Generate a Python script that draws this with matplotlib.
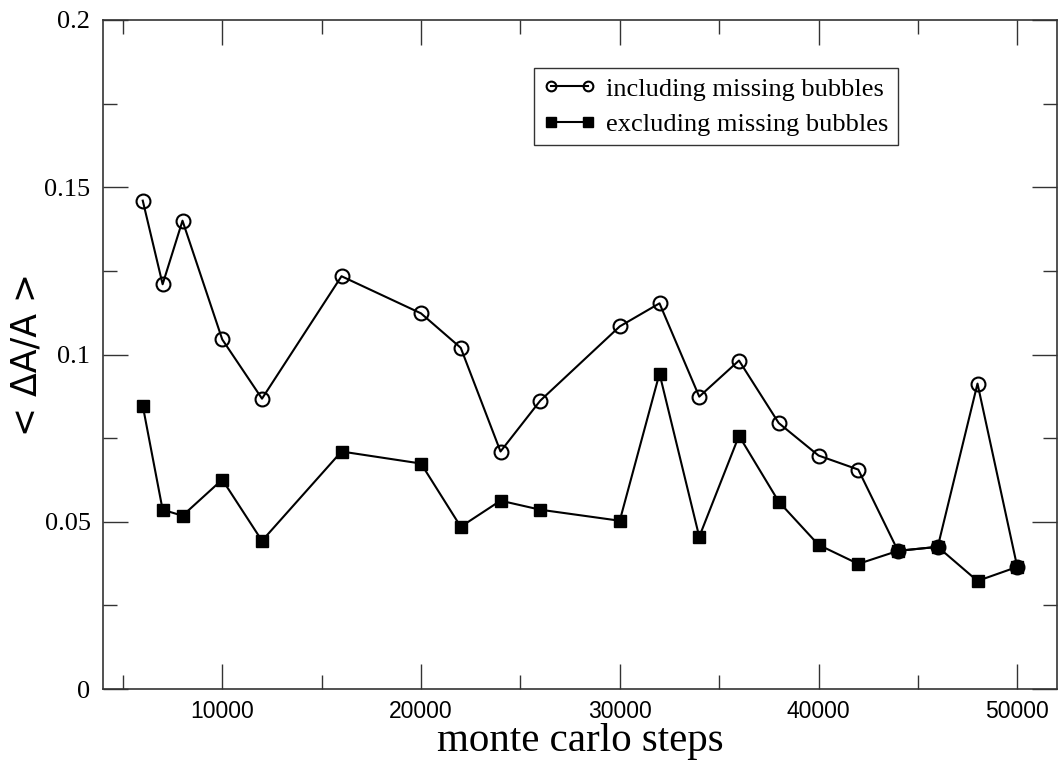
import matplotlib
matplotlib.use('Agg')
import matplotlib.pyplot as plt
from matplotlib.ticker import MultipleLocator

# monte carlo steps
steps = [6000, 7000, 8000, 10000, 12000, 16000, 20000, 22000, 24000, 26000,
         30000, 32000, 34000, 36000, 38000, 40000, 42000, 44000, 46000, 48000, 50000]

including = [0.146, 0.121, 0.140, 0.1045, 0.0868, 0.1234, 0.1123, 0.102, 0.071, 0.0862,
             0.1084, 0.1153, 0.0874, 0.0982, 0.0795, 0.0698, 0.0656, 0.0413, 0.0425, 0.0913, 0.0365]

excluding = [0.0847, 0.0536, 0.0518, 0.0626, 0.0443, 0.071, 0.0674, 0.0485, 0.0563, 0.0536,
             0.0503, 0.0943, 0.0455, 0.0757, 0.056, 0.0431, 0.0374, 0.0413, 0.0425, 0.0323, 0.0365]

plt.rcParams['font.family'] = 'Liberation Serif'

fig = plt.figure(figsize=(10.6, 7.67), dpi=100)
ax = fig.add_axes([103 / 1060, 1 - 689 / 767, (1057 - 103) / 1060, (689 - 20) / 767])

ax.plot(steps, including, color='black', lw=1.5, marker='o', ms=10, mfc='none',
        mec='black', mew=1.5, label='including missing bubbles')
ax.plot(steps, excluding, color='black', lw=1.5, marker='s', ms=9, mfc='black',
        mec='black', label='excluding missing bubbles')

ax.set_xlim(4000, 52000)
ax.set_ylim(0, 0.2)
ax.xaxis.set_major_locator(MultipleLocator(10000))
ax.xaxis.set_minor_locator(MultipleLocator(5000))
ax.yaxis.set_major_locator(MultipleLocator(0.05))
ax.yaxis.set_minor_locator(MultipleLocator(0.025))
ax.yaxis.set_major_formatter(plt.FuncFormatter(lambda v, p: '0' if v == 0 else f'{v:g}'))

ax.tick_params(which='both', direction='in', top=True, right=True, color='#333333')
ax.tick_params(which='major', length=18, width=1)
ax.tick_params(which='minor', length=10, width=1)
ax.tick_params(axis='x', pad=8, labelsize=16.5)
ax.tick_params(axis='y', pad=9, labelsize=19)
for lab in ax.get_xticklabels():
    lab.set_family('Liberation Sans')
for s in ax.spines.values():
    s.set_color('#333333')
    s.set_linewidth(1.2)

# axis titles placed in figure pixels
fig.text(580 / 1060, 1 - 742 / 767, 'monte carlo steps', fontsize=29.5, ha='center', va='center')
fig.text(27 / 1060, 1 - 354 / 767, '< ΔA/A >', fontsize=25, family='DejaVu Sans',
         rotation=90, ha='center', va='center')

leg = ax.legend(loc='upper right', bbox_to_anchor=(898 / 1060, 1 - 68 / 767),
                bbox_transform=fig.transFigure, fontsize=19, frameon=True, fancybox=False,
                edgecolor='black', numpoints=2, handlelength=2.0, handletextpad=0.4,
                borderpad=0.35, labelspacing=0.45, borderaxespad=0)
leg.get_frame().set_linewidth(1)
for h in leg.legend_handles:
    h.set_markersize(7)

fig.savefig('out.png', dpi=100)
